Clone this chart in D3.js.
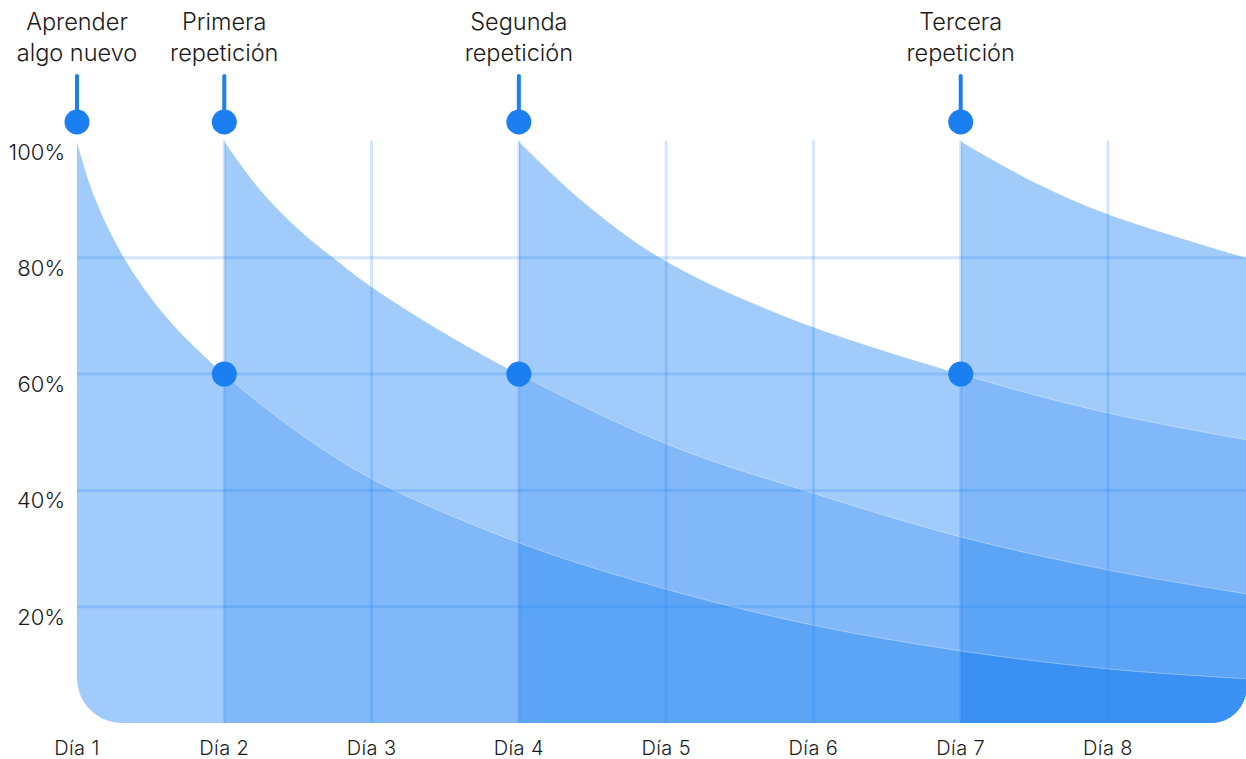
<!DOCTYPE html>
<html>
<head>
<meta charset="utf-8">
<script src="https://cdn.jsdelivr.net/npm/d3@7"></script>
<style>
  body { margin: 0; background: #fff; }
  #chart { width: 1246px; height: 759px; }
  text { font-family: "Inter", "Lato", sans-serif; font-weight: 300; fill: #1a1a1a; }
</style>
</head>
<body>
<div id="chart"></div>
<script>
// Days shown on the x axis
var days = [1, 2, 3, 4, 5, 6, 7, 8];
var dayLabels = ["Día 1", "Día 2", "Día 3", "Día 4", "Día 5", "Día 6", "Día 7", "Día 8"];
var lastDay = 8.94; // right edge of the chart
var yTicks = [20, 40, 60, 80, 100];

// Retention curves [day, percent], one per repetition
var curveLearn  = [[1,100],[1.12,90.4],[1.32,80],[1.6,70],[2,60],[2.5,50],[3,42],[4,31],[5,23],[6,16.8],[7,12.4],[8,9.3],[8.94,7.6]];
var curveRep1   = [[2,100],[2.25,91.5],[2.5,85],[2.75,79.8],[3,75],[3.5,67],[4,60],[5,48],[6,39.5],[7,32],[8,26.3],[8.94,22.2]];
var curveRep2   = [[4,100],[4.42,90],[4.96,80],[5.8,70],[7,60],[8,53.3],[8.94,48.7]];
var curveRep3   = [[7,100],[7.5,93],[8,87.5],[8.94,80]];
var curves = [curveLearn, curveRep1, curveRep2, curveRep3];

// Event markers at the top
var eventDays = [1, 2, 4, 7];
var eventLabels = [["Aprender", "algo nuevo"], ["Primera", "repetición"], ["Segunda", "repetición"], ["Tercera", "repetición"]];
// Review points (where the previous curve hits 60%)
var reviewDays = [2, 4, 7];
var reviewValue = 60;

// overlap shades: 1, 2, 3, 4 curves on top of each other
var shades = ["#a1cbfb", "#80b8f9", "#5ca4f6", "#3a90f3"];
var blue = "#1c7ff1";

var width = 1246, height = 759;

var svg = d3.select("#chart")
  .append("svg")
    .attr("width", width)
    .attr("height", height);

var x = d3.scaleLinear()
    .domain([1, 8])
    .range([77, 1108]);

var y = d3.scaleLinear()
    .domain([0, 100])
    .range([723, 141.5]);

var area = d3.area()
    .x(function(d) { return x(d[0]); })
    .y0(y(0))
    .y1(function(d) { return y(d[1]); })
    .curve(d3.curveCatmullRom.alpha(0.5));

var line = d3.line()
    .x(function(d) { return x(d[0]); })
    .y(function(d) { return y(d[1]); })
    .curve(d3.curveCatmullRom.alpha(0.5));

var defs = svg.append("defs");

// rounded bottom corners of the plot
var L = x(1), R = x(lastDay), B = y(0), rl = 45, rr = 36;
defs.append("clipPath").attr("id", "plotClip")
  .append("path")
    .attr("d", "M" + L + ",0 H" + R + " V" + (B - rr) +
      " A" + rr + "," + rr + " 0 0 1 " + (R - rr) + "," + B +
      " H" + (L + rl) +
      " A" + rl + "," + rl + " 0 0 1 " + L + "," + (B - rl) + " Z");

// one clip per curve start: everything right of that day
eventDays.forEach(function(d, i) {
  defs.append("clipPath").attr("id", "from" + i)
    .append("rect")
      .attr("x", x(d))
      .attr("y", 0)
      .attr("width", width)
      .attr("height", height);
});

var plot = svg.append("g").attr("clip-path", "url(#plotClip)");

// coverage level k: curve i clipped to the start of curve i+k
for (var k = 0; k < curves.length; k++) {
  for (var i = 0; i + k < curves.length; i++) {
    plot.append("g")
        .attr("clip-path", "url(#from" + (i + k) + ")")
      .append("path")
        .datum(curves[i])
        .attr("d", area)
        .attr("fill", shades[k]);
  }
}

// faint seams along the curves
curves.forEach(function(c) {
  plot.append("path")
      .datum(c)
      .attr("d", line)
      .attr("fill", "none")
      .attr("stroke", "#ffffff")
      .attr("stroke-opacity", 0.35)
      .attr("stroke-width", 1);
});

// grid lines
svg.append("g")
  .selectAll("line")
  .data(yTicks.filter(function(t) { return t < 100; }))
  .enter()
  .append("line")
    .attr("x1", x(1))
    .attr("x2", x(lastDay))
    .attr("y1", function(d) { return y(d); })
    .attr("y2", function(d) { return y(d); })
    .attr("stroke", "#1e82f5")
    .attr("stroke-opacity", 0.2)
    .attr("stroke-width", 3);

svg.append("g")
  .selectAll("line")
  .data(days.slice(1))
  .enter()
  .append("line")
    .attr("x1", function(d) { return x(d); })
    .attr("x2", function(d) { return x(d); })
    .attr("y1", y(100) - 1)
    .attr("y2", y(0))
    .attr("stroke", "#1e82f5")
    .attr("stroke-opacity", 0.2)
    .attr("stroke-width", 3);

// y axis labels
svg.append("g")
  .selectAll("text")
  .data(yTicks)
  .enter()
  .append("text")
    .attr("x", 65)
    .attr("y", function(d) { return y(d) + 18; })
    .attr("text-anchor", "end")
    .style("font-size", "22px")
    .text(function(d) { return d + "%"; });

// x axis labels
svg.append("g")
  .selectAll("text")
  .data(days)
  .enter()
  .append("text")
    .attr("x", function(d) { return x(d); })
    .attr("y", 755)
    .attr("text-anchor", "middle")
    .style("font-size", "20px")
    .style("letter-spacing", "0.4px")
    .text(function(d, i) { return dayLabels[i]; });

// event markers: stem + dot
var ev = svg.append("g")
  .selectAll("g")
  .data(eventDays)
  .enter()
  .append("g");

ev.append("line")
    .attr("x1", function(d) { return x(d); })
    .attr("x2", function(d) { return x(d); })
    .attr("y1", 76)
    .attr("y2", 120)
    .attr("stroke", blue)
    .attr("stroke-width", 4)
    .attr("stroke-linecap", "round");

ev.append("circle")
    .attr("cx", function(d) { return x(d); })
    .attr("cy", 122)
    .attr("r", 12.5)
    .attr("fill", blue);

ev.append("text")
    .attr("x", function(d) { return x(d); })
    .attr("text-anchor", "middle")
    .style("font-size", "23.5px")
    .selectAll("tspan")
    .data(function(d, i) { return eventLabels[i]; })
    .enter()
    .append("tspan")
      .attr("x", function() { return x(d3.select(this.parentNode).datum()); })
      .attr("y", function(d, j) { return 30 + j * 31; })
      .text(function(d) { return d; });

// review dots
svg.append("g")
  .selectAll("circle")
  .data(reviewDays)
  .enter()
  .append("circle")
    .attr("cx", function(d) { return x(d); })
    .attr("cy", y(reviewValue))
    .attr("r", 12.5)
    .attr("fill", blue);
</script>
</body>
</html>
